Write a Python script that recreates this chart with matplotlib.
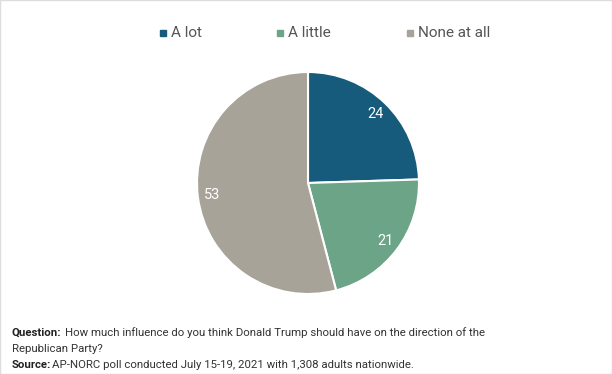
import numpy as np
import matplotlib.pyplot as plt
import matplotlib as mpl
from matplotlib.patches import Rectangle

mpl.rcParams['font.family'] = ['Roboto', 'DejaVu Sans']

# data
labels = ['A lot', 'A little', 'None at all']
values = [24, 21, 53]
colors = ['#165b7c', '#6ba487', '#a8a398']

fig = plt.figure(figsize=(6.12, 3.74), dpi=100)
W, H = 612, 374

# pie axes: centre (308, 183), radius ~111 px
r = 111
cx, cy = 308, 183
ax = fig.add_axes([(cx - r) / W, 1 - (cy + r) / H, 2 * r / W, 2 * r / H])
wedges, _ = ax.pie(values, colors=colors, startangle=90, counterclock=False,
                   wedgeprops=dict(edgecolor='white', linewidth=1.5))
ax.set_aspect('equal')
ax.set_xlim(-1, 1)
ax.set_ylim(-1, 1)

# value labels inside the slices
for w, v in zip(wedges, values):
    ang = np.deg2rad((w.theta1 + w.theta2) / 2)
    ax.text(0.87 * np.cos(ang), 0.87 * np.sin(ang), str(v),
            ha='center', va='center', color='white', fontsize=10.5)

# legend across the top
leg_x = [163, 280, 410]
for x, lab, c in zip(leg_x, labels, colors):
    fig.patches.append(Rectangle(((x - 3) / W, 1 - 36 / H), 6 / W, 6 / H,
                                 transform=fig.transFigure, color=c))
    fig.text((x + 8) / W, 1 - 33 / H, lab, ha='left', va='center',
             fontsize=11, color='#555555')

# footer
fig.text(12 / W, 1 - 333 / H, 'Question:', fontsize=8.2, fontweight='bold',
         va='center', color='#222222')
fig.text(65 / W, 1 - 333 / H,
         'How much influence do you think Donald Trump should have on the direction of the',
         fontsize=8.2, va='center', color='#333333')
fig.text(12 / W, 1 - 349 / H, 'Republican Party?', fontsize=8.2,
         va='center', color='#333333')
fig.text(12 / W, 1 - 365 / H, 'Source:', fontsize=8.2, fontweight='bold',
         va='center', color='#222222')
fig.text(52 / W, 1 - 365 / H,
         'AP-NORC poll conducted July 15-19, 2021 with 1,308 adults nationwide.',
         fontsize=8.2, va='center', color='#333333')

# thin frame
fig.patches.append(Rectangle((0, 0), 1, 1, transform=fig.transFigure,
                             fill=False, edgecolor='#dddddd', linewidth=1))

fig.savefig('out.png', dpi=100)
